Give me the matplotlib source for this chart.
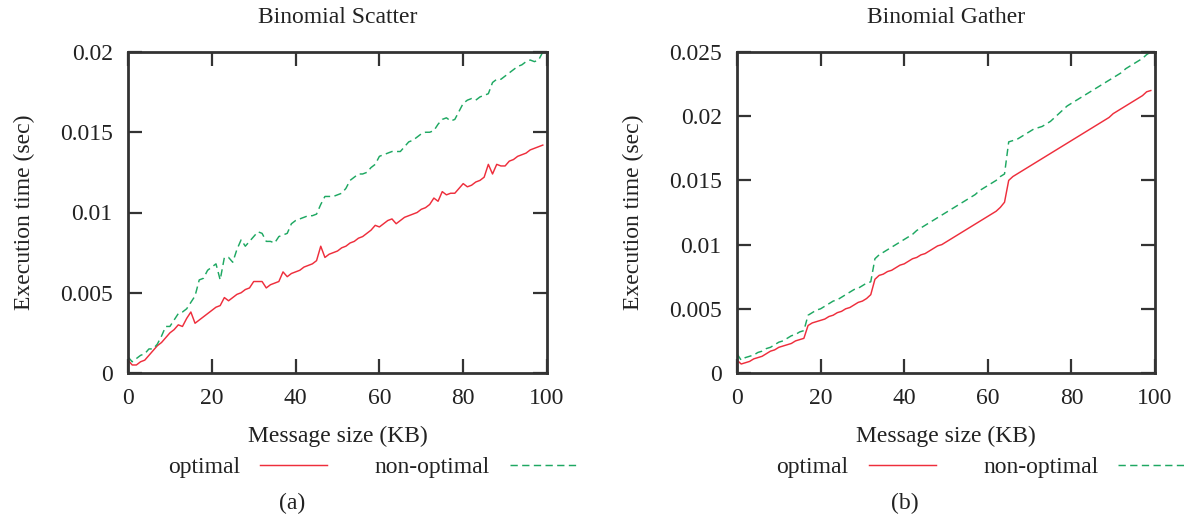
import numpy as np
import matplotlib
matplotlib.use("Agg")
import matplotlib.pyplot as plt
from matplotlib.ticker import FuncFormatter

plt.rcParams['font.family'] = ['Liberation Serif', 'DejaVu Serif']

msg_kb = list(range(100))

scatter_optimal = [
    0.0008, 0.0005, 0.0005, 0.0007, 0.0008, 0.0011, 0.0014, 0.0017, 0.0019, 0.0022,
    0.0025, 0.0027, 0.0030, 0.0029, 0.0034, 0.0038, 0.0031, 0.0033, 0.0035, 0.0037,
    0.0039, 0.0041, 0.0042, 0.0047, 0.0045, 0.0047, 0.0049, 0.0050, 0.0052, 0.0053,
    0.0057, 0.0057, 0.0057, 0.0053, 0.0055, 0.0056, 0.0057, 0.0063, 0.0060, 0.0062,
    0.0063, 0.0064, 0.0066, 0.0067, 0.0068, 0.0070, 0.0079, 0.0072, 0.0074, 0.0075,
    0.0076, 0.0078, 0.0079, 0.0081, 0.0082, 0.0084, 0.0085, 0.0087, 0.0089, 0.0092,
    0.0091, 0.0093, 0.0095, 0.0096, 0.0093, 0.0095, 0.0097, 0.0098, 0.0099, 0.0100,
    0.0102, 0.0103, 0.0105, 0.0109, 0.0107, 0.0113, 0.0111, 0.0112, 0.0112, 0.0115,
    0.0118, 0.0116, 0.0117, 0.0119, 0.0120, 0.0122, 0.0130, 0.0124, 0.0130, 0.0129,
    0.0129, 0.0132, 0.0133, 0.0135, 0.0136, 0.0137, 0.0139, 0.0140, 0.0141, 0.0142,
]

scatter_nonoptimal = [
    0.0010, 0.0007, 0.0009, 0.0011, 0.0012, 0.0015, 0.0015, 0.0018, 0.0023, 0.0029,
    0.0029, 0.0033, 0.0037, 0.0038, 0.0040, 0.0044, 0.0048, 0.0058, 0.0059, 0.0064,
    0.0066, 0.0068, 0.0058, 0.0072, 0.0072, 0.0069, 0.0077, 0.0083, 0.0079, 0.0082,
    0.0085, 0.0088, 0.0087, 0.0082, 0.0082, 0.0081, 0.0085, 0.0086, 0.0087, 0.0093,
    0.0095, 0.0096, 0.0097, 0.0098, 0.0098, 0.0099, 0.0105, 0.0110, 0.0110, 0.0110,
    0.0111, 0.0112, 0.0115, 0.0120, 0.0122, 0.0124, 0.0124, 0.0125, 0.0128, 0.0130,
    0.0135, 0.0136, 0.0137, 0.0138, 0.0138, 0.0138, 0.0141, 0.0144, 0.0145, 0.0147,
    0.0149, 0.0150, 0.0150, 0.0151, 0.0155, 0.0158, 0.0159, 0.0157, 0.0158, 0.0163,
    0.0168, 0.0170, 0.0171, 0.0170, 0.0172, 0.0173, 0.0174, 0.0181, 0.0183, 0.0183,
    0.0185, 0.0187, 0.0189, 0.0191, 0.0192, 0.0194, 0.0195, 0.0194, 0.0195, 0.0200,
]

gather_optimal = [
    0.0010, 0.0007, 0.0008, 0.0009, 0.0011, 0.0012, 0.0013, 0.0015, 0.0017, 0.0018,
    0.0020, 0.0021, 0.0022, 0.0023, 0.0025, 0.0026, 0.0027, 0.0037, 0.0039, 0.0040,
    0.0041, 0.0042, 0.0044, 0.0045, 0.0047, 0.0048, 0.0050, 0.0051, 0.0053, 0.0055,
    0.0056, 0.0058, 0.0061, 0.0073, 0.0076, 0.0077, 0.0079, 0.0080, 0.0082, 0.0084,
    0.0085, 0.0087, 0.0089, 0.0090, 0.0092, 0.0093, 0.0095, 0.0097, 0.0099, 0.0100,
    0.0102, 0.0104, 0.0106, 0.0108, 0.0110, 0.0112, 0.0114, 0.0116, 0.0118, 0.0120,
    0.0122, 0.0124, 0.0126, 0.0129, 0.0133, 0.0150, 0.0153, 0.0155, 0.0157, 0.0159,
    0.0161, 0.0163, 0.0165, 0.0167, 0.0169, 0.0171, 0.0173, 0.0175, 0.0177, 0.0179,
    0.0181, 0.0183, 0.0185, 0.0187, 0.0189, 0.0191, 0.0193, 0.0195, 0.0197, 0.0199,
    0.0202, 0.0204, 0.0206, 0.0208, 0.0210, 0.0212, 0.0214, 0.0216, 0.0219, 0.0220,
]

gather_nonoptimal = [
    0.0015, 0.0010, 0.0012, 0.0013, 0.0014, 0.0016, 0.0017, 0.0019, 0.0020, 0.0022,
    0.0024, 0.0025, 0.0027, 0.0029, 0.0030, 0.0032, 0.0033, 0.0045, 0.0047, 0.0049,
    0.0050, 0.0052, 0.0054, 0.0056, 0.0057, 0.0059, 0.0061, 0.0063, 0.0065, 0.0066,
    0.0068, 0.0070, 0.0071, 0.0089, 0.0092, 0.0094, 0.0096, 0.0098, 0.0100, 0.0102,
    0.0104, 0.0106, 0.0108, 0.0111, 0.0113, 0.0115, 0.0117, 0.0119, 0.0121, 0.0123,
    0.0125, 0.0127, 0.0129, 0.0131, 0.0133, 0.0135, 0.0137, 0.0139, 0.0142, 0.0144,
    0.0146, 0.0148, 0.0150, 0.0153, 0.0155, 0.0180, 0.0181, 0.0182, 0.0184, 0.0186,
    0.0188, 0.0190, 0.0191, 0.0192, 0.0194, 0.0196, 0.0199, 0.0202, 0.0205, 0.0208,
    0.0210, 0.0212, 0.0214, 0.0216, 0.0218, 0.0220, 0.0222, 0.0224, 0.0226, 0.0228,
    0.0230, 0.0232, 0.0234, 0.0237, 0.0239, 0.0241, 0.0243, 0.0245, 0.0248, 0.0250,
]

titles = ["Binomial Scatter", "Binomial Gather"]
panel_labels = ["(a)", "(b)"]
series_names = ["optimal", "non-optimal"]
x_ticks = [0, 20, 40, 60, 80, 100]
y_ticks_a = [0, 0.005, 0.01, 0.015, 0.02]
y_ticks_b = [0, 0.005, 0.01, 0.015, 0.02, 0.025]

RED = '#ee2e3c'
GREEN = '#1ea862'
FS = 17
TXT = '#222222'

fig = plt.figure(figsize=(11.84, 5.2), dpi=100)
axA = fig.add_axes([128/1184, 1-373/520, (547-128)/1184, (373-52)/520])
axB = fig.add_axes([737/1184, 1-373/520, (1155-737)/1184, (373-52)/520])

panels = [
    (axA, scatter_optimal, scatter_nonoptimal, y_ticks_a, 0.02, 45),
    (axB, gather_optimal, gather_nonoptimal, y_ticks_b, 0.025, 41),
]

for i, (ax, opt, nonopt, yt, ymax, lab_off) in enumerate(panels):
    l1, = ax.plot(msg_kb, opt, color=RED, lw=1.05, label=series_names[0])
    l2, = ax.plot(msg_kb, nonopt, color=GREEN, lw=1.05, dashes=(5, 3), label=series_names[1])
    ax.set_xlim(0, 100)
    ax.set_ylim(0, ymax)
    ax.set_xticks(x_ticks)
    ax.set_yticks(yt)
    ax.yaxis.set_major_formatter(FuncFormatter(lambda v, p: '%g' % v))
    ax.tick_params(direction='in', length=10, width=1.6, color='#333333',
                   top=True, right=True, labelsize=FS, labelcolor=TXT)
    ax.tick_params(axis='x', pad=11)
    ax.tick_params(axis='y', pad=11)
    for s in ax.spines.values():
        s.set_linewidth(2.0)
        s.set_color('#333333')
    ax.set_title(titles[i], fontsize=FS, pad=21, color=TXT)
    ax.set_xlabel("Message size (KB)", fontsize=FS, labelpad=12, color=TXT)
    ax.set_ylabel("Execution time (sec)", fontsize=FS, labelpad=18, color=TXT)
    pos = ax.get_position()
    cx = (pos.x0 + pos.x1) / 2
    leg = fig.legend(handles=[l1, l2], loc='center', ncol=2, frameon=False,
                     markerfirst=False, fontsize=FS, handlelength=2.85,
                     handletextpad=0.85, columnspacing=2.0,
                     bbox_to_anchor=(cx + 35/1184, 1-467/520))
    for t in leg.get_texts():
        t.set_color(TXT)
    fig.text(cx - lab_off/1184, 1-503/520, panel_labels[i], ha='center',
             va='center', fontsize=FS, color=TXT)

fig.savefig("out.png", dpi=100)
